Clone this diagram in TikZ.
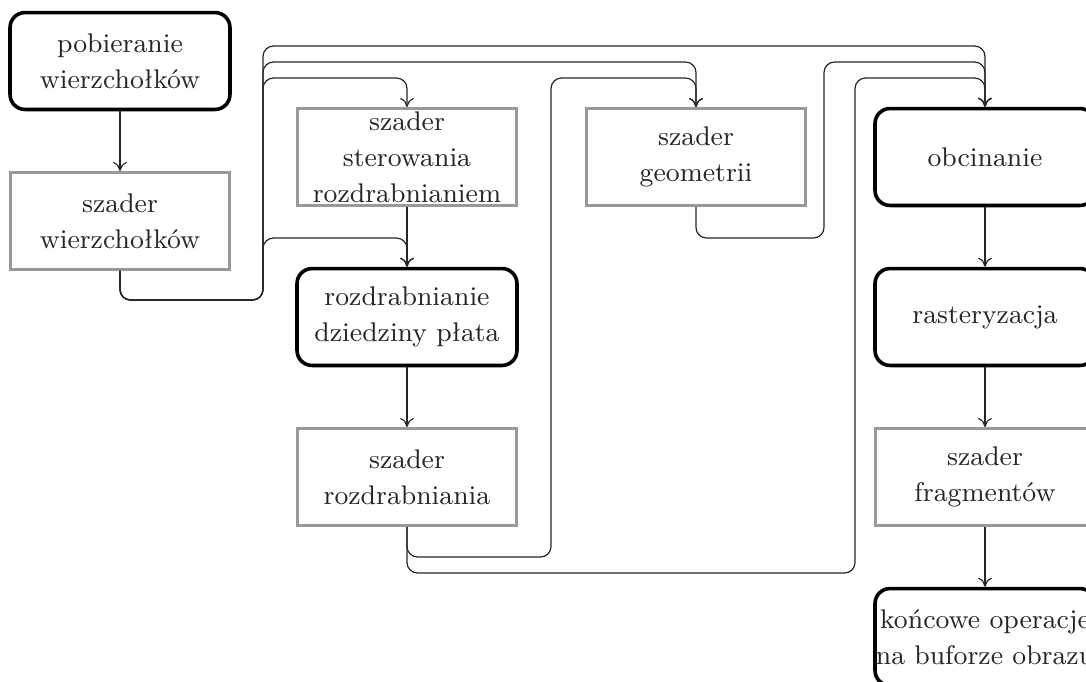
\documentclass[tikz,border=0pt]{standalone}
\usetikzlibrary{arrows.meta}
\begin{document}
\begin{tikzpicture}[x=0.3333pt,y=-0.3333pt,
  every node/.style={font=\fontsize{9}{12}\selectfont, text=black!85},
  base/.style={inner sep=0pt, minimum width=73.3pt, minimum height=32.3pt, align=center},
  fixedbox/.style={base, draw=black, line width=1.2pt, rounded corners=5pt},
  shaderbox/.style={base, draw=black!40, line width=1pt},
  conn/.style={draw=black!85, line width=0.4pt, rounded corners=3.5pt, -{To[length=3pt,width=4.6pt]}}]
\useasboundingbox (0,0) rectangle (1086,681);
\node[fixedbox]  (pob) at (120,61)  {pobieranie\\wierzchołków};
\node[shaderbox] (sw)  at (120,221) {szader\\wierzchołków};
\node[shaderbox] (ssr) at (407,157) {szader\\sterowania\\rozdrabnianiem};
\node[fixedbox]  (rdp) at (407,317) {rozdrabnianie\\dziedziny płata};
\node[shaderbox] (sr)  at (407,477) {szader\\rozdrabniania};
\node[shaderbox] (sg)  at (696,157) {szader\\geometrii};
\node[fixedbox]  (obc) at (985,157) {obcinanie};
\node[fixedbox]  (ras) at (985,317) {rasteryzacja};
\node[shaderbox] (sf)  at (985,477) {szader\\fragmentów};
\node[fixedbox]  (kon) at (985,637) {końcowe operacje\\na buforze obrazu};

\draw[conn] (pob) -- (sw);
\draw[conn] (ssr) -- (rdp);
\draw[conn] (rdp) -- (sr);
\draw[conn] (obc) -- (ras);
\draw[conn] (ras) -- (sf);
\draw[conn] (sf) -- (kon);

\draw[conn] (sw.south) |- (263,300) |- (407,238) -- (rdp.north);
\draw[conn] (sw.south) |- (263,300) |- (407,78) -- (ssr.north);
\draw[conn] (sw.south) |- (263,300) |- (696,62) -- (sg.north);
\draw[conn] (sw.south) |- (263,300) |- (985,46) -- (obc.north);
\draw[conn] (sg.south) |- (824,238) |- (985,62) -- (obc.north);
\draw[conn] (sr.south) |- (551,557) |- (696,78) -- (sg.north);
\draw[conn] (sr.south) |- (855,573) |- (985,78) -- (obc.north);
\end{tikzpicture}
\end{document}
